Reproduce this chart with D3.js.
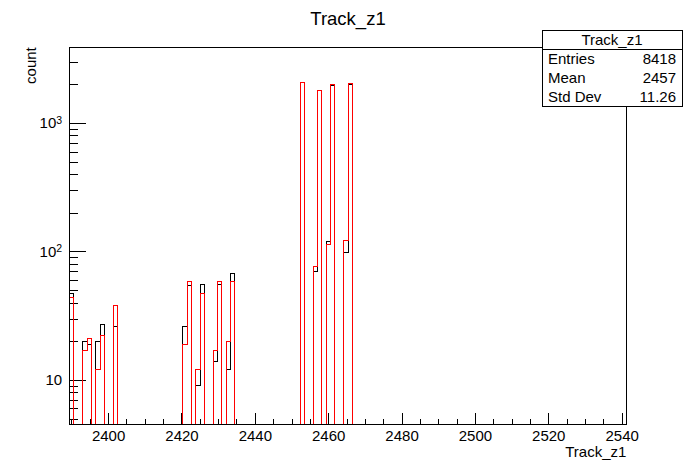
<!DOCTYPE html>
<html>
<head>
<meta charset="utf-8">
<script src="https://cdn.jsdelivr.net/npm/d3@7"></script>
<style>
body { margin: 0; background: #fff; }
svg { display: block; font-family: "Liberation Sans", Arial, Helvetica, sans-serif; }
.axis path.domain { display: none; }
.axis line { stroke: #000; shape-rendering: crispEdges; }
.axis text { fill: #000; }
</style>
</head>
<body>
<script>
var width = 696,
    height = 472,
    margin = { left: 69.6, right: 69.6, top: 47.2, bottom: 47.2 },
    fontSize = 15;

// histogram range / binning
var xMin = 2389.5, xMax = 2541.3, nBins = 128;
var yMin = 4.48, yMax = 3890;

// non-empty bins (bin centre) and counts of the two histograms
var binCenters  = [2390.09, 2393.65, 2394.84, 2397.21, 2398.40, 2401.96,
                   2420.93, 2422.12, 2424.49, 2425.68, 2429.24, 2430.42, 2432.80, 2433.98,
                   2452.96, 2456.52, 2457.70, 2460.07, 2461.26, 2464.82, 2466.01];
var countsBlack = [47, 20, 19, 20, 27, 26,
                   26, 54, 9, 55, 14, 55, 12, 68,
                   2070, 70, 1795, 119, 1960, 99, 2000];
var countsRed   = [44, 17, 21, 12, 22, 38,
                   19, 58, 12, 47, 17, 58, 20, 58,
                   2075, 77, 1795, 114, 2000, 121, 2037];

var xMajor = [2400, 2420, 2440, 2460, 2480, 2500, 2520, 2540];
var yMajor = [10, 100, 1000];

var title = "Track_z1",
    xTitle = "Track_z1",
    yTitle = "count";

var statLabels = ["Entries", "Mean", "Std Dev"];
var statValues = ["8418", "2457", "11.26"];

var svg = d3.select("body").append("svg")
    .attr("width", width)
    .attr("height", height);

var x = d3.scaleLinear()
    .domain([xMin, xMax])
    .range([margin.left, width - margin.right]);

var y = d3.scaleLog()
    .domain([yMin, yMax])
    .range([height - margin.bottom, margin.top])
    .clamp(true);

var frameH = height - margin.top - margin.bottom,
    frameW = width - margin.left - margin.right;

// x axis: major + minor ticks inside the frame
var xMinor = d3.range(2390, 2541, 5).filter(function(v) { return xMajor.indexOf(v) < 0; });
svg.append("g")
    .attr("class", "axis")
    .attr("transform", "translate(0," + (height - margin.bottom) + ")")
    .call(d3.axisBottom(x).tickValues(xMinor).tickSize(-0.015 * frameH).tickFormat(""));
svg.append("g")
    .attr("class", "axis")
    .attr("transform", "translate(0," + (height - margin.bottom) + ")")
    .call(d3.axisBottom(x).tickValues(xMajor).tickSize(-0.03 * frameH).tickPadding(5.5)
        .tickFormat(d3.format("d")))
    .selectAll("text").style("font-size", fontSize + "px");

// y axis (log)
var yMinor = [];
[1, 10, 100, 1000].forEach(function(dec) {
    for (var m = 2; m <= 9; m++) {
        var v = m * dec;
        if (v >= yMin && v <= yMax && yMajor.indexOf(v) < 0) yMinor.push(v);
    }
});
svg.append("g")
    .attr("class", "axis")
    .attr("transform", "translate(" + margin.left + ",0)")
    .call(d3.axisLeft(y).tickValues(yMinor).tickSize(-0.015 * frameW).tickFormat(""));
var yAx = svg.append("g")
    .attr("class", "axis")
    .attr("transform", "translate(" + margin.left + ",0)")
    .call(d3.axisLeft(y).tickValues(yMajor).tickSize(-0.03 * frameW).tickPadding(7.5)
        .tickFormat(function() { return ""; }));
yAx.selectAll("text")
    .style("font-size", fontSize + "px")
    .each(function(d) {
        var t = d3.select(this);
        var e = Math.round(Math.log10(d));
        t.append("tspan").text("10");
        if (e > 1) {
            t.append("tspan").attr("dy", "-0.45em").style("font-size", "10.5px").text(e);
        }
    });

// histograms
var bw = (xMax - xMin) / nBins;
function fillBins(counts) {
    var arr = d3.range(nBins).map(function() { return 0; });
    binCenters.forEach(function(c, i) {
        arr[Math.floor((c - xMin) / bw)] = counts[i];
    });
    return arr;
}
var yBottom = y.range()[0];
var step = d3.line()
    .x(function(d) { return x(d[0]); })
    .y(function(d) { return d[1] > 0 ? y(Math.max(d[1], yMin)) : yBottom; })
    .curve(d3.curveStepAfter);
function stepPoints(arr) {
    var pts = [[xMin, 0]];
    arr.forEach(function(v, k) { pts.push([xMin + k * bw, v]); });
    pts.push([xMax, arr[nBins - 1]]);
    pts.push([xMax, 0]);
    return pts;
}

svg.append("path")
    .datum(stepPoints(fillBins(countsBlack)))
    .attr("d", step)
    .attr("fill", "none")
    .attr("stroke", "#000")
    .attr("stroke-width", 1)
    .style("shape-rendering", "crispEdges");

svg.append("path")
    .datum(stepPoints(fillBins(countsRed)))
    .attr("d", step)
    .attr("fill", "none")
    .attr("stroke", "#ff0000")
    .attr("stroke-width", 1)
    .style("shape-rendering", "crispEdges");

// frame
svg.append("rect")
    .attr("x", margin.left)
    .attr("y", margin.top)
    .attr("width", frameW)
    .attr("height", frameH)
    .attr("fill", "none")
    .attr("stroke", "#000")
    .style("shape-rendering", "crispEdges");

// titles
svg.append("text")
    .attr("x", width / 2)
    .attr("y", 25)
    .attr("text-anchor", "middle")
    .style("font-size", "18.5px")
    .text(title);

svg.append("text")
    .attr("x", width - margin.right)
    .attr("y", 457)
    .attr("text-anchor", "end")
    .style("font-size", fontSize + "px")
    .text(xTitle);

svg.append("text")
    .attr("transform", "translate(36," + margin.top + ") rotate(-90)")
    .attr("text-anchor", "end")
    .style("font-size", fontSize + "px")
    .text(yTitle);

// stats box
var sb = { x0: 542, x1: 682, y0: 30, y1: 106, sep: 49 };
var stats = svg.append("g").attr("class", "stats");
stats.append("rect")
    .attr("x", sb.x0)
    .attr("y", sb.y0)
    .attr("width", sb.x1 - sb.x0)
    .attr("height", sb.y1 - sb.y0)
    .attr("fill", "#fff")
    .attr("stroke", "#000")
    .style("shape-rendering", "crispEdges");
stats.append("line")
    .attr("x1", sb.x0).attr("x2", sb.x1)
    .attr("y1", sb.sep).attr("y2", sb.sep)
    .attr("stroke", "#000")
    .style("shape-rendering", "crispEdges");
stats.append("text")
    .attr("x", (sb.x0 + sb.x1) / 2)
    .attr("y", 45)
    .attr("text-anchor", "middle")
    .style("font-size", fontSize + "px")
    .text(title);
var rowH = (sb.y1 - sb.sep) / statLabels.length;
statLabels.forEach(function(lab, i) {
    var by = sb.sep + rowH * (i + 0.5) + 5.3;
    stats.append("text")
        .attr("x", sb.x0 + 6)
        .attr("y", by)
        .style("font-size", fontSize + "px")
        .text(lab);
    stats.append("text")
        .attr("x", sb.x1 - 6)
        .attr("y", by)
        .attr("text-anchor", "end")
        .style("font-size", fontSize + "px")
        .text(statValues[i]);
});
</script>
</body>
</html>
